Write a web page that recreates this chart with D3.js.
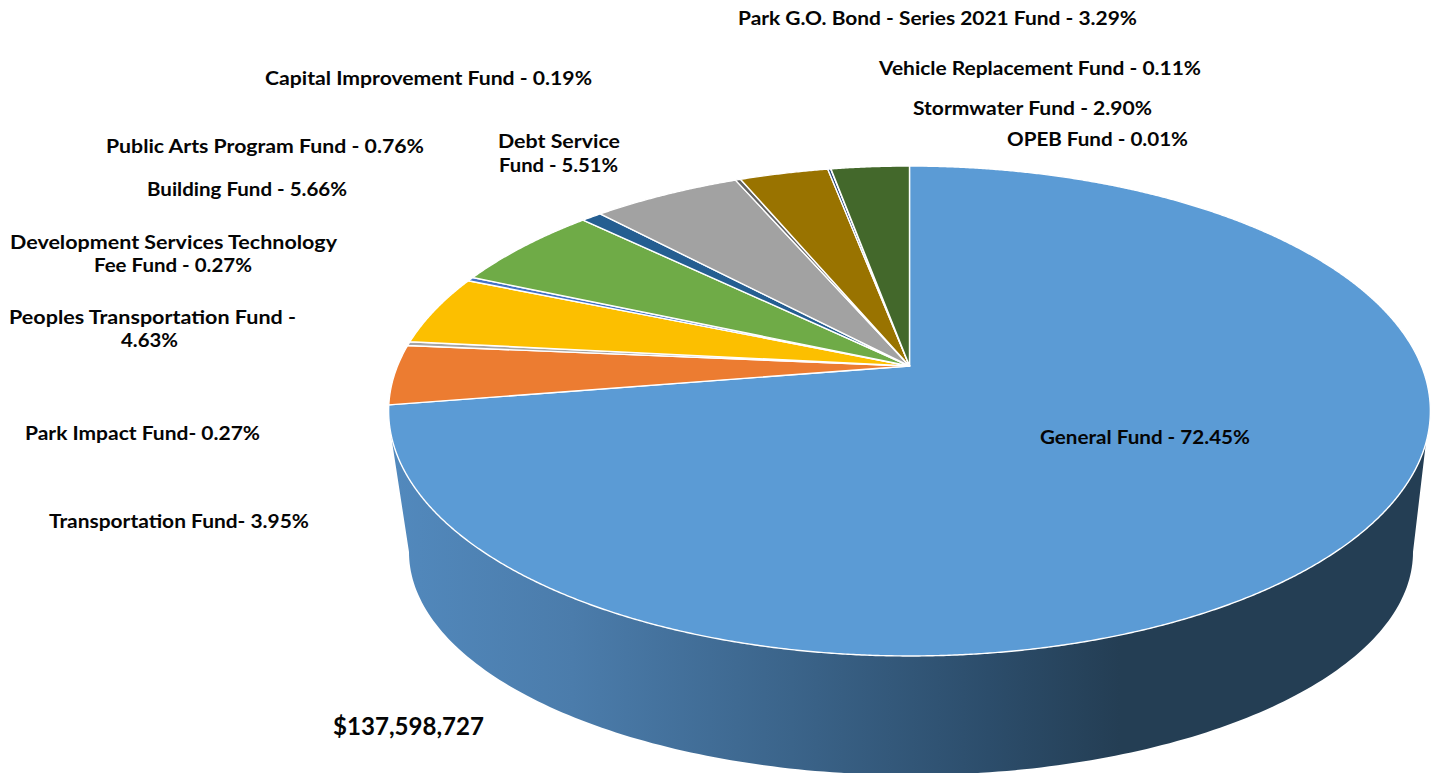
<!DOCTYPE html>
<html>
<head>
<meta charset="utf-8">
<script src="https://cdn.jsdelivr.net/npm/d3@7"></script>
<style>
    html, body { margin: 0; padding: 0; background: #fff; overflow: hidden; }
    text { font-family: Lato, "Open Sans", sans-serif; font-weight: 700; fill: #050505; }
</style>
</head>
<body>
<div class="canvas"></div>
<script>
// clockwise from 12 o'clock
const funds = ['General Fund', 'Transportation Fund', 'Park Impact Fund', 'Peoples Transportation Fund',
    'Development Services Technology Fee Fund', 'Building Fund', 'Public Arts Program Fund', 'Debt Service Fund',
    'Capital Improvement Fund', 'Park G.O. Bond - Series 2021 Fund', 'Vehicle Replacement Fund', 'OPEB Fund', 'Stormwater Fund'];
const shares = [72.45, 3.95, 0.27, 4.63, 0.27, 5.66, 0.76, 5.51, 0.19, 3.29, 0.11, 0.01, 2.90];
const colors = ['#5b9bd5', '#ec7c31', '#a5a5a5', '#fcbf00', '#4472c4', '#6fab47', '#255e91', '#a2a2a2',
    '#636363', '#997300', '#264478', '#9dc3e6', '#43682b'];
const labelLines = [
    ['General Fund - 72.45%'],
    ['Transportation Fund- 3.95%'],
    ['Park Impact Fund- 0.27%'],
    ['Peoples Transportation Fund -', '4.63%'],
    ['Development Services Technology', 'Fee Fund - 0.27%'],
    ['Building Fund - 5.66%'],
    ['Public Arts Program Fund - 0.76%'],
    ['Debt Service', 'Fund - 5.51%'],
    ['Capital Improvement Fund - 0.19%'],
    ['Park G.O. Bond - Series 2021 Fund - 3.29%'],
    ['Vehicle Replacement Fund - 0.11%'],
    ['OPEB Fund - 0.01%'],
    ['Stormwater Fund - 2.90%']
];
const totalLabel = '$137,598,727';

// label placement, one [left, right, baseline] per line
const labelBoxes = [
    [[1040, 1250, 444]],
    [[49, 309, 528]],
    [[25, 260, 440]],
    [[9, 296, 324], [121, 178, 347]],
    [[10, 337, 249], [94, 252, 272]],
    [[147, 347, 196]],
    [[106, 424, 153]],
    [[498, 620, 148], [499, 618, 172]],
    [[265, 592, 85]],
    [[738, 1137, 25]],
    [[879, 1201, 75]],
    [[1007, 1188, 146]],
    [[913, 1152, 115]]
];

const dims = { width: 1437, height: 773 };
const cent = { x: 909.5, y: 366 };
// perspective of the tilted disc: the near edge is drawn bigger than the far one
const disc = { radius: 512, flat: 236.7, persp: 0.1837 };
// outline of the underside, seen as a plain ellipse
const under = { x: 911, y: 552, rx: 502, ry: 223 };
// where the side wall leaves the rim, degrees clockwise from the top
const wallAngles = { right: 107.9, left: 254.4 };

const rad = d => d * Math.PI / 180;

const project = (a) => {
    const ux = Math.sin(a);
    const uy = -Math.cos(a);
    const s = 1 / (1 - disc.persp * uy);
    return [cent.x + disc.radius * ux * s, cent.y + disc.flat * uy * s];
};

const line = d3.line();

const rimPoints = (from, to) => {
    const steps = Math.max(2, Math.ceil(Math.abs(to - from) / rad(0.25)));
    return d3.range(steps + 1).map(i => project(from + (to - from) * i / steps));
};

const svg = d3.select('.canvas')
    .append('svg')
    .attr('width', dims.width)
    .attr('height', dims.height)
    .style('display', 'block');

const grad = svg.append('defs').append('linearGradient')
    .attr('id', 'wallShade')
    .attr('gradientUnits', 'userSpaceOnUse')
    .attr('x1', 390).attr('x2', 1120)
    .attr('y1', 0).attr('y2', 0);

[[0, '#5289bd'], [0.25, '#4b7cab'], [0.55, '#3b648a'], [0.82, '#2c4d6b'], [1, '#243e54']].forEach(([o, c]) => {
    grad.append('stop').attr('offset', o).attr('stop-color', c);
});

// side wall: rim from right to left, then back along the underside
const underPoints = d3.range(0, 181).map(d => [
    under.x + under.rx * Math.cos(rad(d)),
    under.y + under.ry * Math.sin(rad(d))
]);

svg.append('path')
    .attr('d', line(rimPoints(rad(wallAngles.right), rad(wallAngles.left)).concat(underPoints.reverse())) + 'Z')
    .attr('fill', 'url(#wallShade)');

const pie = d3.pie()
    .sort(null)
    .value(d => d);

svg.append('g')
    .selectAll('path')
    .data(pie(shares))
    .enter()
    .append('path')
    .attr('d', d => line([[cent.x, cent.y]].concat(rimPoints(d.startAngle, d.endAngle))) + 'Z')
    .attr('fill', (d, i) => colors[i])
    .attr('stroke', '#fff')
    .attr('stroke-width', 1.4)
    .attr('stroke-linejoin', 'round')
    .append('title')
    .text((d, i) => `${funds[i]} - ${d.value.toFixed(2)}%`);

const labels = svg.append('g');

labelLines.forEach((lines, i) => {
    lines.forEach((t, j) => {
        const [left, right, base] = labelBoxes[i][j];
        labels.append('text')
            .attr('x', left)
            .attr('y', base)
            .attr('font-size', 19.5)
            .attr('textLength', right - left)
            .attr('lengthAdjust', 'spacingAndGlyphs')
            .text(t);
    });
});

labels.append('text')
    .attr('x', 333)
    .attr('y', 735)
    .attr('font-size', 24)
    .attr('textLength', 151)
    .attr('lengthAdjust', 'spacingAndGlyphs')
    .text(totalLabel);
</script>
</body>
</html>
